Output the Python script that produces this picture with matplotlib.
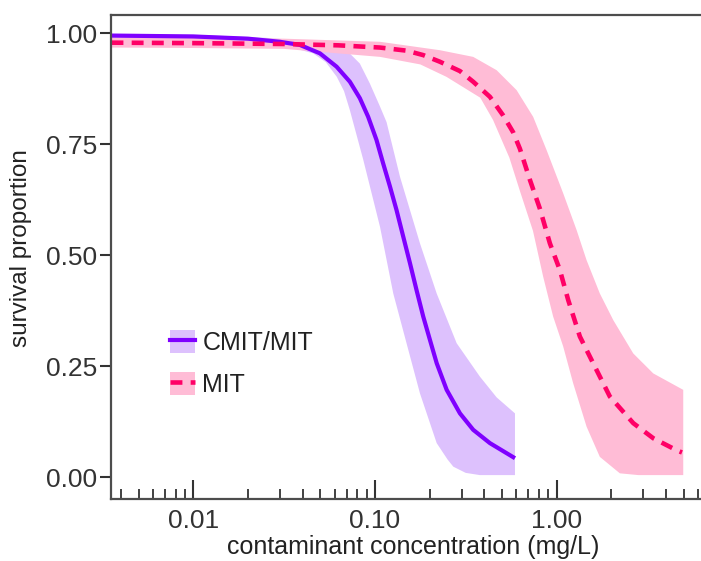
import matplotlib
matplotlib.use("Agg")
import matplotlib.pyplot as plt
from matplotlib.patches import Patch
from matplotlib.lines import Line2D
from matplotlib.ticker import LogLocator, FixedLocator, NullFormatter

plt.rcParams['font.family'] = ['Liberation Sans', 'DejaVu Sans']

# values, conc in mg/L
# CMIT/MIT fitted curve
cmit_conc = [0.00355, 0.01, 0.02, 0.03, 0.0386, 0.0498, 0.0615, 0.0728, 0.0826,
             0.0918, 0.102, 0.111, 0.121, 0.1315, 0.1432, 0.156, 0.1694, 0.1845,
             0.201, 0.2188, 0.2483, 0.2938, 0.3475, 0.4295, 0.59]
cmit_surv = [0.995, 0.993, 0.988, 0.981, 0.974, 0.955, 0.925, 0.891, 0.854,
             0.812, 0.760, 0.707, 0.655, 0.602, 0.542, 0.482, 0.422, 0.362,
             0.309, 0.257, 0.197, 0.144, 0.107, 0.077, 0.043]
# CMIT/MIT band edges
cmit_low_conc = [0.00355, 0.01, 0.0251, 0.0355, 0.0457, 0.0537, 0.0617, 0.0676,
                 0.0728, 0.0863, 0.1067, 0.1262, 0.1493, 0.177, 0.2188, 0.2512,
                 0.27, 0.316, 0.378, 0.59]
cmit_low = [0.990, 0.988, 0.977, 0.967, 0.955, 0.935, 0.902, 0.87, 0.827, 0.715,
            0.564, 0.414, 0.302, 0.189, 0.077, 0.040, 0.024, 0.010, 0.005, 0.005]
cmit_high_conc = [0.00355, 0.01, 0.0251, 0.0398, 0.0562, 0.0698, 0.0826, 0.0938,
                  0.1067, 0.1159, 0.1374, 0.177, 0.2188, 0.2818, 0.378, 0.4677,
                  0.59]
cmit_high = [0.998, 0.997, 0.990, 0.983, 0.975, 0.962, 0.932, 0.887, 0.835, 0.80,
             0.677, 0.527, 0.414, 0.302, 0.227, 0.18, 0.144]

# MIT fitted curve
mit_conc = [0.00355, 0.01, 0.0316, 0.0631, 0.1067, 0.1493, 0.1845, 0.228,
            0.2938, 0.3475, 0.4295, 0.5082, 0.5768, 0.6281, 0.7129, 0.8091,
            0.9183, 1.042, 1.159, 1.343, 1.589, 1.963, 2.642, 3.404, 4.571, 4.9]
mit_surv = [0.979, 0.978, 0.976, 0.973, 0.968, 0.961, 0.951, 0.936, 0.915, 0.891,
            0.857, 0.815, 0.777, 0.74, 0.67, 0.605, 0.527, 0.467, 0.399, 0.317,
            0.257, 0.182, 0.122, 0.088, 0.061, 0.056]
# MIT band edges
mit_low_conc = [0.00355, 0.01, 0.0316, 0.1067, 0.1778, 0.2477, 0.3802, 0.4467,
                0.5495, 0.6281, 0.7413, 0.8433, 0.9572, 1.0864, 1.2331, 1.4622,
                1.7298, 2.2284, 2.8184, 4.977]
mit_low = [0.968, 0.967, 0.965, 0.947, 0.93, 0.902, 0.855, 0.805, 0.72, 0.645,
           0.555, 0.452, 0.362, 0.295, 0.212, 0.114, 0.046, 0.009, 0.005, 0.005]
mit_high_conc = [0.00355, 0.01, 0.0316, 0.1067, 0.228, 0.3475, 0.4677, 0.6026,
                 0.743, 0.881, 1.0864, 1.2882, 1.4622, 1.7298, 2.0512, 2.642,
                 3.404, 4.977]
mit_high = [0.990, 0.990, 0.988, 0.981, 0.962, 0.947, 0.917, 0.872, 0.812, 0.737,
            0.64, 0.557, 0.489, 0.414, 0.354, 0.279, 0.234, 0.197]

x_ticks = [0.01, 0.1, 1.0]
x_ticklabels = ['0.01', '0.10', '1.00']
y_ticks = [0.0, 0.25, 0.5, 0.75, 1.0]
y_ticklabels = ['0.00', '0.25', '0.50', '0.75', '1.00']
series_names = ['CMIT/MIT', 'MIT']

purple = '#7F00FF'
purple_band = '#DDC1FD'
pink = '#FF0066'
pink_band = '#FFBCD6'
axis_grey = '#4D4D4D'
mit_dash = (2.6, 1.8)

fig = plt.figure(figsize=(7.01, 5.61), dpi=100)
# panel runs a little past the right edge of the picture, like the original crop
ax = fig.add_axes([0.159, 0.110, 0.860, 0.863])


def band(ax, lo_x, lo_y, hi_x, hi_y, color):
    xs = list(lo_x) + list(hi_x)[::-1]
    ys = list(lo_y) + list(hi_y)[::-1]
    ax.fill(xs, ys, color=color, lw=0)


band(ax, cmit_low_conc, cmit_low, cmit_high_conc, cmit_high, purple_band)
band(ax, mit_low_conc, mit_low, mit_high_conc, mit_high, pink_band)
ax.plot(cmit_conc, cmit_surv, color=purple, lw=3.0, solid_capstyle='butt')
ax.plot(mit_conc, mit_surv, color=pink, lw=3.3, dashes=mit_dash,
        dash_capstyle='butt')

ax.set_xscale('log')
ax.set_xlim(10 ** -2.45, 10 ** 0.868)
ax.set_ylim(-0.0495, 1.041)

ax.xaxis.set_major_locator(FixedLocator(x_ticks))
ax.set_xticklabels(x_ticklabels)
ax.xaxis.set_minor_locator(LogLocator(base=10, subs=range(2, 10)))
ax.xaxis.set_minor_formatter(NullFormatter())
ax.set_yticks(y_ticks)
ax.set_yticklabels(y_ticklabels)

ax.tick_params(axis='x', which='major', direction='in', length=14, width=1.5,
               color='#333333', labelsize=19, labelcolor='#333333', pad=7)
ax.tick_params(axis='x', which='minor', direction='in', length=7.5, width=1.3,
               color='#333333')
ax.tick_params(axis='y', which='major', direction='out', length=8, width=1.5,
               color='#333333', labelsize=19, labelcolor='#333333', pad=2.5)

for side in ['left', 'bottom', 'top']:
    ax.spines[side].set_color(axis_grey)
    ax.spines[side].set_linewidth(1.6)
ax.spines['right'].set_visible(False)

ax.set_xlabel('contaminant concentration (mg/L)', fontsize=18, color='#222222')
ax.set_ylabel('survival proportion', fontsize=17.5, color='#222222')
ax.xaxis.set_label_coords(0.5, -0.074)
ax.yaxis.set_label_coords(-0.131, 0.519)

handles = [
    (Patch(facecolor=purple_band, edgecolor='none'),
     Line2D([], [], color=purple, lw=3.0)),
    (Patch(facecolor=pink_band, edgecolor='none'),
     Line2D([], [], color=pink, lw=3.3, dashes=mit_dash)),
]
fig.legend(handles, series_names, loc='upper left',
           bbox_to_anchor=(0.2425, 0.4118), bbox_transform=fig.transFigure,
           frameon=False, fontsize=18, borderpad=0, borderaxespad=0,
           handlelength=1.0, handleheight=1.04, handletextpad=0.3,
           labelspacing=0.66, labelcolor='#222222')

fig.savefig('out.png', dpi=100)
